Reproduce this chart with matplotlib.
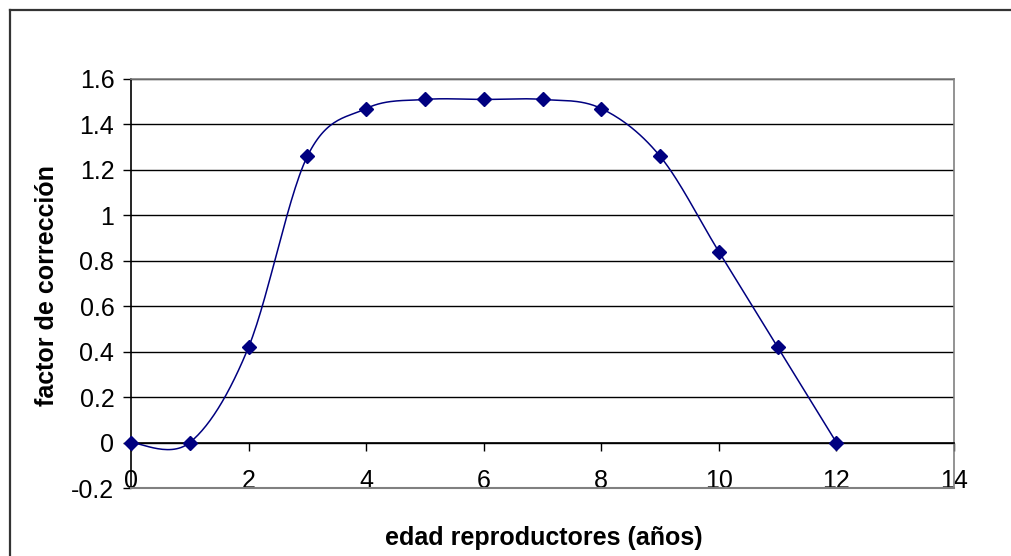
import numpy as np
import matplotlib.pyplot as plt
from matplotlib.lines import Line2D

plt.rcParams["font.family"] = ["Liberation Sans", "DejaVu Sans"]

edad = [0, 1, 2, 3, 4, 5, 6, 7, 8, 9, 10, 11, 12]
factor = [0, 0, 0.42, 1.26, 1.47, 1.51, 1.51, 1.51, 1.47, 1.26, 0.84, 0.42, 0]
x_ticks = [0, 2, 4, 6, 8, 10, 12, 14]
y_ticks = [-0.2, 0, 0.2, 0.4, 0.6, 0.8, 1, 1.2, 1.4, 1.6]
y_labels = ["-0.2", "0", "0.2", "0.4", "0.6", "0.8", "1", "1.2", "1.4", "1.6"]

NAVY = "#000080"


def smooth_line(xs, ys, n=30):
    """curva suavizada tipo Excel (Bezier / Catmull-Rom)"""
    pts = np.column_stack([xs, ys]).astype(float)
    pts = np.vstack([pts[0], pts, pts[-1]])
    out = []
    t = np.linspace(0, 1, n)[:, None]
    for i in range(1, len(pts) - 2):
        p0, p3 = pts[i], pts[i + 1]
        c1 = p0 + (pts[i + 1] - pts[i - 1]) / 6
        c2 = p3 - (pts[i + 2] - pts[i]) / 6
        seg = ((1 - t) ** 3) * p0 + 3 * ((1 - t) ** 2) * t * c1 \
            + 3 * (1 - t) * t ** 2 * c2 + t ** 3 * p3
        out.append(seg)
    curve = np.vstack(out)
    return curve[:, 0], curve[:, 1]


fig = plt.figure(figsize=(10.11, 5.56), dpi=100)
# marco del grafico (solo se ven izquierda y arriba)
bx, by = 9.5 / 1011, 1 - 9.5 / 556
fig.add_artist(Line2D([bx, bx], [-0.1, by], transform=fig.transFigure,
                      color="#333333", linewidth=1.6))
fig.add_artist(Line2D([bx, 1.1], [by, by], transform=fig.transFigure,
                      color="#333333", linewidth=1.6))

ax = fig.add_axes([131 / 1011, 1 - 488 / 556, (954 - 131) / 1011, (488 - 79) / 556])

sx, sy = smooth_line(edad, factor)
ax.plot(sx, sy, color=NAVY, linewidth=1.1, zorder=4)
ax.plot(edad, factor, linestyle="none", marker="D", markersize=7.5,
        color=NAVY, zorder=5, clip_on=False)

ax.set_xlim(0, 14)
ax.set_ylim(-0.2, 1.6)
ax.set_xticks(x_ticks)
ax.set_xticklabels([str(v) for v in x_ticks])
ax.set_yticks(y_ticks)
ax.set_yticklabels(y_labels)

ax.yaxis.grid(True, color="black", linewidth=1)
ax.set_axisbelow(True)
ax.axhline(-0.2, color="#808080", linewidth=1.5, clip_on=False, zorder=3)

ax.spines["bottom"].set_position(("data", 0))
ax.spines["bottom"].set_color("black")
ax.spines["left"].set_color("black")
ax.spines["right"].set_color("#808080")
ax.spines["top"].set_color("#808080")
for s in ax.spines.values():
    s.set_linewidth(1.2)

ax.tick_params(axis="x", direction="out", length=6, width=1, pad=13, labelsize=18)
ax.tick_params(axis="y", direction="out", length=6, width=1, pad=6, labelsize=18)

fig.text(47 / 1011, 1 - 286 / 556, "factor de corrección", fontsize=18,
         fontweight="bold", rotation=90, ha="center", va="center")
fig.text(544 / 1011, 1 - 538 / 556, "edad reproductores (años)", fontsize=18,
         fontweight="bold", ha="center", va="center")

fig.savefig("out.png", dpi=100)
